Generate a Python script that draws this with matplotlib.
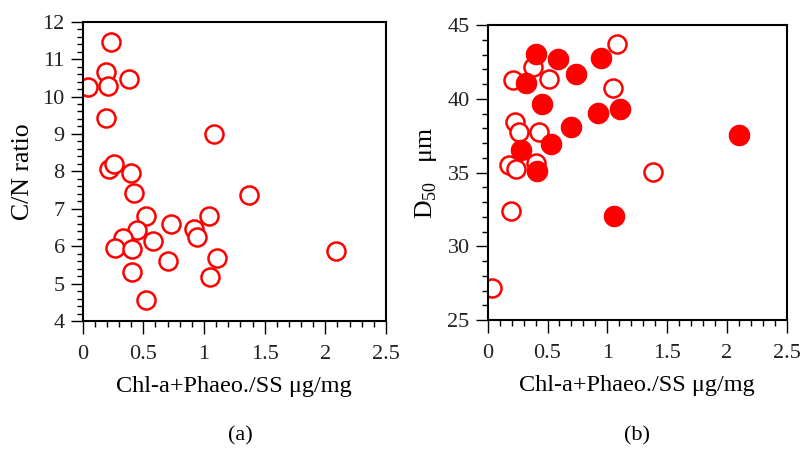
import matplotlib
matplotlib.use("Agg")
import matplotlib.pyplot as plt
from matplotlib.ticker import MultipleLocator

# Panel (a): C/N ratio vs Chl-a+Phaeo./SS
cn_x = [0.04, 0.19, 0.21, 0.23, 0.385, 0.19, 1.085, 0.22, 0.26, 0.40, 0.42, 1.37,
        0.52, 0.445, 0.73, 0.92, 0.94, 1.04, 0.33, 0.27, 0.41, 0.58, 0.70, 1.11,
        1.05, 0.41, 0.52, 2.09]
cn_y = [10.25, 10.65, 10.28, 11.45, 10.47, 9.43, 9.0, 8.06, 8.2, 7.95, 7.41, 7.36,
        6.8, 6.43, 6.58, 6.45, 6.24, 6.82, 6.21, 5.96, 5.92, 6.13, 5.6, 5.69,
        5.18, 5.32, 4.56, 5.87]

# Panel (b): D50 vs Chl-a+Phaeo./SS (open and filled groups)
d50_open_x = [0.04, 0.195, 0.18, 0.237, 0.23, 0.265, 0.215, 0.38, 0.51, 0.43, 0.40,
              1.085, 1.05, 1.38]
d50_open_y = [27.15, 32.39, 35.53, 35.21, 38.42, 37.72, 41.27, 42.13, 41.32, 37.72,
              35.67, 43.69, 40.73, 35.03]
d50_fill_x = [0.40, 0.59, 0.74, 0.945, 0.32, 0.457, 0.925, 1.11, 0.70, 0.527, 0.276,
              0.41, 1.056, 2.10]
d50_fill_y = [43.01, 42.72, 41.68, 42.79, 41.09, 39.64, 39.01, 39.31, 38.06, 36.9,
              36.53, 35.1, 32.02, 37.56]

xlabel = "Chl-a+Phaeo./SS μg/mg"
xticks = [0, 0.5, 1, 1.5, 2, 2.5]
xticklabels = ["0", "0.5", "1", "1.5", "2", "2.5"]

plt.rcParams['font.family'] = ['Liberation Serif', 'DejaVu Serif']
plt.rcParams['mathtext.fontset'] = 'custom'
plt.rcParams['mathtext.rm'] = 'Liberation Serif'

fig = plt.figure(figsize=(8.04, 4.49), dpi=100)
ax1 = fig.add_axes([0.1029, 0.285, 0.3771, 0.6667])
ax2 = fig.add_axes([0.6066, 0.2873, 0.3719, 0.657])

red = '#ff0000'

def style(ax, ylim, ymin, yticks):
    ax.set_xlim(0, 2.5)
    ax.set_ylim(*ylim)
    ax.set_xticks(xticks)
    ax.set_xticklabels(xticklabels)
    ax.set_yticks(yticks)
    ax.set_yticklabels([str(t) for t in yticks])
    ax.xaxis.set_minor_locator(MultipleLocator(0.1))
    ax.yaxis.set_minor_locator(MultipleLocator(ymin))
    ax.tick_params(axis='both', which='major', direction='out', length=9, width=1,
                   labelsize=16, colors='black', labelcolor='#222222')
    ax.tick_params(axis='x', which='major', pad=8)
    ax.tick_params(axis='y', which='major', pad=4)
    ax.tick_params(axis='both', which='minor', direction='out', length=4.5, width=1)
    for s in ax.spines.values():
        s.set_linewidth(1.5)
        s.set_color('black')
    ax.set_xlabel(xlabel, fontsize=17.5, labelpad=9)

ax1.plot(cn_x, cn_y, 'o', ms=13, mfc='white', mec=red, mew=1.8, linestyle='none')
style(ax1, (4, 12), 0.2, list(range(4, 13)))
ax1.set_ylabel("C/N ratio", fontsize=18.5, labelpad=6)

ax2.plot(d50_open_x, d50_open_y, 'o', ms=13, mfc='white', mec=red, mew=1.8, linestyle='none')
ax2.plot(d50_fill_x, d50_fill_y, 'o', ms=14.5, mfc=red, mec=red, mew=1, linestyle='none')
style(ax2, (25, 45), 1, [25, 30, 35, 40, 45])
ax2.set_ylabel("D$_{50}$   μm", fontsize=18.5, labelpad=6)

fig.text(0.2985, 0.029, "(a)", fontsize=16, ha='center', va='center')
fig.text(0.792, 0.029, "(b)", fontsize=16, ha='center', va='center')

fig.savefig("out.png", dpi=100)
